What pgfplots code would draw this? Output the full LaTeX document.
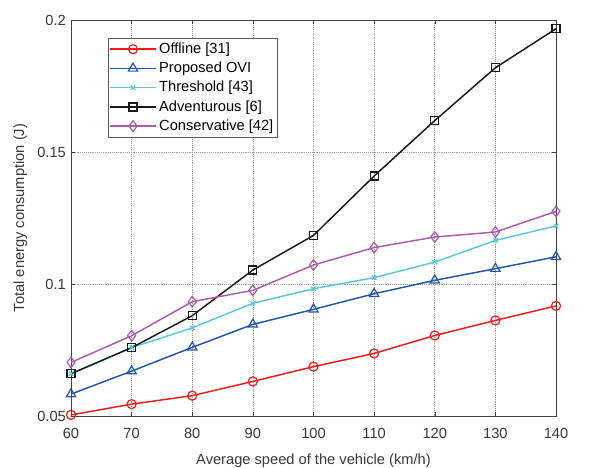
\documentclass[border=0pt]{standalone}
\usepackage{fontspec}
\setmainfont{Liberation Sans}
\usepackage{pgfplots}
\pgfplotsset{compat=1.18}
\definecolor{cred}{rgb}{0.95,0.1,0.1}
\definecolor{cblue}{rgb}{0.13,0.33,0.68}
\definecolor{ccyan}{rgb}{0.35,0.78,0.85}
\definecolor{cpurple}{rgb}{0.68,0.35,0.68}
\begin{document}
\begin{tikzpicture}
\fontsize{11}{13}\selectfont
\begin{axis}[name=ax,
  scale only axis, width=363.75pt, height=297pt,
  xmin=60, xmax=140, ymin=0.05, ymax=0.2,
  xtick={60,70,...,140}, ytick={0.05,0.1,0.15,0.2},
  yticklabels={0.05,0.1,0.15,0.2},
  /pgf/number format/assume math mode=true,
  tick align=inside, tick pos=both,
  major tick length=3pt,
  grid=major, grid style={densely dotted, gray!75, line width=0.45pt},
  axis line style={black!75, line width=0.5pt},
  tick style={black!75},
  ticklabel style={font=\fontsize{11}{13}\selectfont, text=black!78},
  xticklabel style={yshift=-5pt},
  xlabel={Average speed of the vehicle (km/h)},
  ylabel={Total energy consumption (J)},
  label style={font=\fontsize{11}{13}\selectfont, text=black!78},
  xlabel style={yshift=-4pt},
  ylabel style={yshift=0pt},
  legend style={at={(0.076,0.955)}, anchor=north west, draw=black!65, line width=0.5pt,
    font=\fontsize{11}{13}\selectfont, row sep=0.8pt, inner xsep=1pt, inner ysep=1.5pt, cells={anchor=west}},
  legend cell align=left,
  legend image code/.code={\draw[mark repeat=2,mark phase=2] plot coordinates {(0cm,0cm) (0.6cm,0cm) (1.2cm,0cm)};},
]
\addplot[color=cred, line width=1.1pt, mark=o, mark size=3.4pt, mark options={solid, line width=0.9pt}] coordinates {
(60,0.0504) (70,0.0545) (80,0.0577) (90,0.0631) (100,0.0687) (110,0.0737) (120,0.0805) (130,0.0862) (140,0.0917)};
\addlegendentry{Offline [31]}
\addplot[color=cblue, line width=1.1pt, mark=triangle, mark size=4pt, mark options={solid, line width=0.9pt}] coordinates {
(60,0.0583) (70,0.0670) (80,0.0760) (90,0.0847) (100,0.0904) (110,0.0963) (120,0.1014) (130,0.1058) (140,0.1103)};
\addlegendentry{Proposed OVI}
\addplot[color=ccyan, line width=1.1pt, mark=x, mark size=2.4pt, mark options={solid, line width=0.9pt}] coordinates {
(60,0.0660) (70,0.0759) (80,0.0834) (90,0.0927) (100,0.0982) (110,0.1024) (120,0.1083) (130,0.1165) (140,0.1220)};
\addlegendentry{Threshold [43]}
\addplot[color=black!90, line width=1.1pt, mark=square, mark size=3pt, mark options={solid, line width=0.9pt}] coordinates {
(60,0.0660) (70,0.0759) (80,0.0880) (90,0.1053) (100,0.1184) (110,0.1409) (120,0.1619) (130,0.1819) (140,0.1967)};
\addlegendentry{Adventurous [6]}
\addplot[color=cpurple, line width=1.1pt, mark=diamond, mark size=4pt, mark options={solid, line width=0.9pt}] coordinates {
(60,0.0703) (70,0.0804) (80,0.0933) (90,0.0976) (100,0.1072) (110,0.1138) (120,0.1178) (130,0.1197) (140,0.1275)};
\addlegendentry{Conservative [42]}
\end{axis}
\pgfresetboundingbox
\path[use as bounding box] ([shift={(-53.25pt,-38.25pt)}]ax.south west) rectangle ([shift={(25.5pt,15pt)}]ax.north east);
\end{tikzpicture}
\end{document}
